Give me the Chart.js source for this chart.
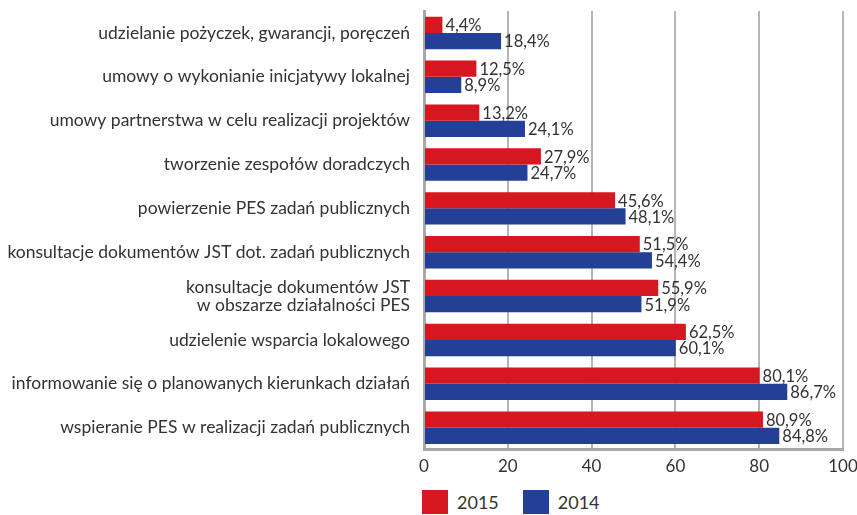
<!DOCTYPE html>
<html>
<head>
<meta charset="utf-8">
<script src="https://cdn.jsdelivr.net/npm/chart.js@4"></script>
<style>
  body { margin: 0; background: #fff; font-family: Lato, sans-serif; }
  #wrap { position: relative; width: 857px; height: 485px; }
  #legend { position: absolute; left: 422px; top: 490px; display: flex; align-items: center; font-size: 18px; color: #333; }
  .box { width: 26px; height: 24px; display: inline-block; margin-right: 9px; }
  .item { display: flex; align-items: center; margin-right: 24px; }
</style>
</head>
<body>
<div id="wrap"><canvas id="chart" width="857" height="484"></canvas></div>
<div id="legend"></div>
<script>
// categories, top to bottom
const categories = [
    'udzielanie pożyczek, gwarancji, poręczeń',
    'umowy o wykonianie inicjatywy lokalnej',
    'umowy partnerstwa w celu realizacji projektów',
    'tworzenie zespołów doradczych',
    'powierzenie PES zadań publicznych',
    'konsultacje dokumentów JST dot. zadań publicznych',
    ['konsultacje dokumentów JST', 'w obszarze działalności PES'],
    'udzielenie wsparcia lokalowego',
    'informowanie się o planowanych kierunkach działań',
    'wspieranie PES w realizacji zadań publicznych'
];
const values2015 = [4.4, 12.5, 13.2, 27.9, 45.6, 51.5, 55.9, 62.5, 80.1, 80.9];
const values2014 = [18.4, 8.9, 24.1, 24.7, 48.1, 54.4, 51.9, 60.1, 86.7, 84.8];
const xTicks = [0, 20, 40, 60, 80, 100];

const red = '#d7171f';
const blue = '#233f96';

// percent labels at the end of each bar
const barLabels = {
    id: 'barLabels',
    afterDatasetsDraw(chart) {
        const c = chart.ctx;
        c.save();
        c.font = '16.5px Lato';
        c.fillStyle = '#333';
        c.textBaseline = 'middle';
        chart.data.datasets.forEach((ds, i) => {
            chart.getDatasetMeta(i).data.forEach((bar, j) => {
                const txt = ds.data[j].toFixed(1).replace('.', ',') + '%';
                c.fillText(txt, bar.x + 3, bar.y + 1);
            });
        });
        c.restore();
    }
};

const ctx = document.getElementById('chart').getContext('2d');
const chart = new Chart(ctx, {
    type: 'bar',
    data: {
        labels: categories,
        datasets: [
            { label: '2015', data: values2015, backgroundColor: red },
            { label: '2014', data: values2014, backgroundColor: blue }
        ]
    },
    options: {
        indexAxis: 'y',
        responsive: false,
        animation: false,
        devicePixelRatio: 1,
        categoryPercentage: 0.74,
        barPercentage: 1,
        layout: { padding: { top: 11, right: 3, left: 0, bottom: 0 } },
        plugins: { legend: { display: false }, tooltip: { enabled: false } },
        scales: {
            x: {
                min: 0,
                max: 100,
                afterBuildTicks(axis) { axis.ticks = xTicks.map(v => ({ value: v })); },
                afterFit(axis) { axis.paddingRight = 14; },
                grid: { color: '#b5b5b5', lineWidth: 2, drawTicks: false },
                border: { color: '#a8a8a8', width: 3 },
                ticks: { color: '#333', font: { family: 'Lato', size: 17 }, padding: 7 }
            },
            y: {
                grid: { display: false, drawTicks: false },
                border: { color: '#a8a8a8', width: 3 },
                afterFit(axis) {
                    axis.width = 424;
                    axis.paddingTop = 0;
                    axis.paddingBottom = 0;
                },
                ticks: { color: '#333', font: { family: 'Lato', size: 17.5, lineHeight: 1.05 }, padding: 14, autoSkip: false }
            }
        }
    },
    plugins: [barLabels]
});

const legend = document.getElementById('legend');
chart.data.datasets.forEach(ds => {
    const item = document.createElement('div');
    item.className = 'item';
    item.innerHTML = '<span class="box" style="background:' + ds.backgroundColor + '"></span>' + ds.label;
    legend.appendChild(item);
});
</script>
</body>
</html>
